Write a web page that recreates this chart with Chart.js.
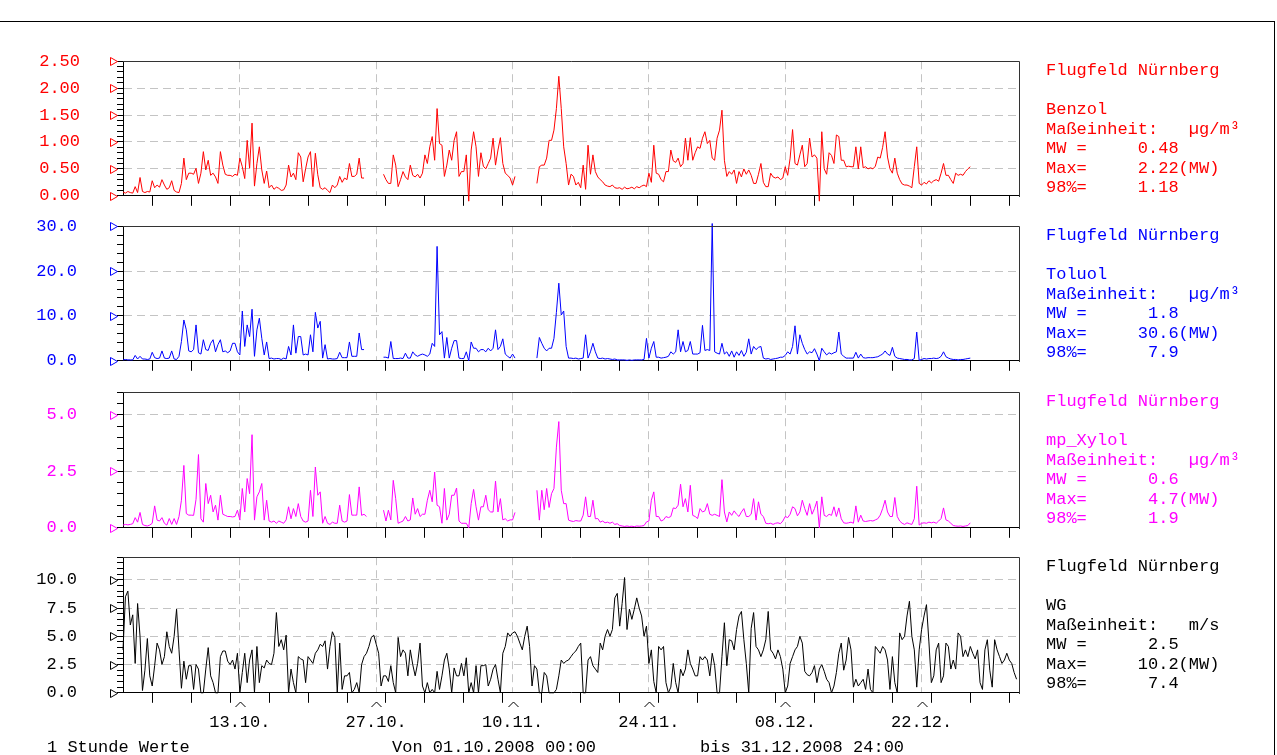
<!DOCTYPE html>
<html><head><meta charset="utf-8">
<script src="https://cdn.jsdelivr.net/npm/chart.js@4.4.1/dist/chart.umd.min.js"></script>
<style>
html,body{margin:0;padding:0;background:#fff;}
body{width:1277px;height:755px;overflow:hidden;position:relative;}
canvas{position:absolute;left:0;}
.info{position:absolute;left:1046px;margin:0;font:17px/19.5px 'Liberation Mono',monospace;white-space:pre;z-index:2;}
.foot{position:absolute;top:738px;margin:0;font:17px/20px 'Liberation Mono',monospace;white-space:pre;color:#000;z-index:2;}
#frame{position:absolute;left:-2px;top:21px;width:1276px;height:800px;border-top:1px solid #000;border-right:1px solid #000;}
</style>
</head><body>
<div id="frame"></div>
<script>
const _ = null;
const STEP_DAYS = 0.25; // 6-hour samples starting 01.10.2008 00:00
const dateTicks = [12, 26, 40, 54, 68, 82];
const dateLabels = ['13.10.', '27.10.', '10.11.', '24.11.', '08.12.', '22.12.'];
const dayTicks = [3,7,11,15,19,23,27,31,35,39,43,47,51,55,59,63,67,71,75,79,83,87,91];

const benzolTicks = [0, 0.5, 1, 1.5, 2, 2.5];
const toluolTicks = [0, 10, 20, 30];
const xylolTicks = [0, 2.5, 5];
const wgTicks = [0, 2.5, 5, 7.5, 10];

const stationName = 'Flugfeld Nürnberg';
const seriesNames = ['Benzol', 'Toluol', 'mp_Xylol', 'WG'];
const units = ['µg/m³', 'µg/m³', 'µg/m³', 'm/s'];
const meanValues = ['0.48', '1.8', '0.6', '2.5'];
const maxValues = ['2.22', '30.6', '4.7', '10.2'];
const p98Values = ['1.18', '7.9', '1.9', '7.4'];

const benzol = [
.07,.05,.08,.06, .05,.17,.06,.34, .08,.06,.08,.07, .28,.15,.20,.16, .30,.20,.12,.15,
.28,.10,.07,.06, .23,.70,.30,.42, .42,.40,.51,.23, .42,.82,.48,.66, .38,.42,.35,.23,
.82,.57,.40,.38, .38,.36,.40,.38, .70,.54,.32,1.03, .51,1.35,.18,.60, .91,.48,.23,.46,
.15,.20,.12,.16, .14,.10,.11,.20, .57,.35,.42,.30, .80,.72,.26,.50, .72,.82,.17,.79,
.39,.15,.12,.15, .10,.06,.20,.15, .20,.36,.25,.33, .30,.60,.36,.36, .40,.70,.33,.33,
_,_,_,_, _,_,_,.40, .30,.23,.23,.76, .57,.17,.30,.45, .35,.30,.57,.38,
.35,.40,.33,.42, .76,.60,.91,1.10, .66,1.62,.97,.94, .36,.57,.85,.66, 1.03,1.19,.36,.45,
.45,.76,-.10,.85, 1.19,.91,.36,.80, .55,.50,.60,.70, 1.07,.57,.85,1.08, .60,.42,.38,.33,
.20,.36,_,_, _,_,_,_, _,_,.23,.54, .57,.57,.70,1.03, 1.03,1.22,1.62,2.22,
1.62,.91,.60,.20, .40,.36,.20,.25, .15,.57,.12,.94, .40,.76,.45,.35, .30,.26,.20,.18,
.17,.20,.15,.14, .15,.12,.16,.13, .14,.16,.13,.17, .15,.18,.20,.17, .42,.25,.94,.42,
.40,.30,.26,.45, .45,.85,.65,.62, .70,.54,.60,1.07, .66,1.08,.66,.80, .91,.88,1.07,1.19,
.97,1.03,.70,.66, 1.07,1.22,1.59,.66, .36,.45,.40,.48, .23,.45,.35,.50, .40,.48,.38,.23,
.23,.40,.60,.25, .17,.17,.42,.35, .33,.35,.30,.33, .54,.38,.70,1.23, .60,.57,.76,.94,
.54,.60,1.07,.72, .76,.70,-.10,1.19, .50,.40,.80,.75, .60,1.13,1.10,.66, .66,.54,.55,.54,
.54,.91,.50,.91, .52,.54,.50,.52, .50,.55,.72,.70, .90,1.19,.72,.50, .42,.70,.42,.30,
.22,.20,.20,.18, .15,.54,.91,.23, .20,.25,.22,.28, .24,.28,.30,.27, .42,.60,.38,.38,
.30,.23,.42,.38, .40,.38,.45,.50, .54,_,_,_, _,_,_,_, _,_,_,_,
_,_,_,_, _,_,_,_
];

const toluol = [
.2,.3,.2,.2, .2,1.2,.4,1.0, .4,.4,.3,.4, 1.9,.7,.5,.6, 2.2,.6,.5,.6,
2.2,.4,.3,1.0, 4.3,9.1,6.9,2.2, 2.0,2.5,8.0,1.8, 1.5,4.7,2.5,2.3, 3.9,4.7,2.0,3.6,
4.7,2.0,2.2,1.8, 2.2,3.9,3.9,2.0, 1.3,11.1,3.2,8.0, 5.4,11.5,1.0,6.9, 9.5,5.0,1.3,4.2,
.5,.6,.4,.5, .5,.3,.6,.4, 3.2,1.3,8.0,1.7, 5.4,5.4,1.3,1.5, 1.3,5.8,2.0,10.8,
7.3,8.8,.6,3.6, .4,.5,.4,.4, .5,1.9,.7,.7, .7,4.2,1.0,1.0, 1.0,6.2,2.5,2.5,
_,_,_,_, _,_,_,.8, .8,.6,4.3,.5, .5,.5,.6,.5, 1.7,.6,.6,2.0,
1.3,1.0,1.3,1.5, 1.3,1.0,1.5,3.9, 3.2,25.5,5.8,6.5, .6,5.2,.6,2.8, 4.5,4.5,.6,.5,
.5,2.0,0,4.2, 2.8,2.8,2.0,2.5, 2.5,2.0,2.8,2.2, 2.8,6.9,2.5,3.2, 4.9,1.5,1.0,.6,
1.5,.6,_,_, _,_,_,_, _,_,.6,5.2, 3.9,2.8,2.2,2.8, 2.8,5.0,10.8,17.3,
10.2,11.1,3.2,.6, .6,.5,.6,.4, .5,.6,5.8,.6, 2.0,3.9,2.0,.6, .5,.6,.4,.5,
.4,.3,.4,.2, .2,.2,.2,.1, .2,.1,.2,.2, .2,.2,.3,5.0, .6,2.8,4.3,.8,
.8,.6,.7,.8, 1.0,2.0,1.5,2.0, 6.9,2.0,4.3,2.0, 2.3,4.3,1.5,1.5, 1.5,1.8,7.9,2.3,
2.5,2.3,30.6,2.0, 1.7,1.5,3.9,1.5, 2.0,1.0,2.2,.8, 2.0,1.2,2.3,1.0, 1.9,4.9,1.5,3.2,
2.5,3.0,3.2,.6, .4,.5,.3,.4, .5,.6,.8,.8, 1.2,2.0,1.5,3.2, 7.8,1.5,5.8,3.9,
2.5,1.5,2.0,1.8, 2.7,1.5,0,2.8, 2.0,1.3,1.8,1.5, 1.8,2.0,6.4,1.5, 1.0,.6,.6,.6,
.6,1.9,.6,1.5, .7,.6,.7,.7, .7,.8,.9,1.2, 1.5,2.2,1.5,1.2, 3.0,1.0,.6,.5,
.4,.3,.3,.2, .2,.5,6.4,.1, .3,.5,.4,.5, .5,.6,.5,.6, 1.0,2.0,.9,.6,
.4,.3,.3,.2, .3,.3,.4,.5, .6,_,_,_, _,_,_,_, _,_,_,_,
_,_,_,_, _,_,_,_
];

const xylol = [
.12,.15,.13,.15, .18,.45,.25,.68, .15,.10,.08,.12, .20,.97,.34,.30, .45,.20,.12,.41,
.15,.41,.15,.50, 1.22,2.76,.63,.56, .56,.55,1.26,3.24, .40,.25,1.96,1.07, 1.44,.70,1.00,.34,
1.44,.60,.55,.50, .50,.48,.50,.78, .34,1.74,.70,2.18, 1.51,4.12,.34,1.37, 1.59,1.96,.34,1.22,
.30,.25,.30,.20, .30,.25,.20,.35, .93,.40,.85,.50, 1.07,.50,.30,.25, .30,1.66,.50,2.69,
1.44,1.59,.20,.50, .20,.15,.25,.20, .20,1.00,.30,.25, .30,1.47,.56,.56, .56,1.81,.55,.60,
.50,_,_,_, _,_,_,.78, .30,.78,.35,2.10, 1.29,.20,.25,.30, .50,.30,.35,1.32,
.60,.85,.50,.60, .60,1.22,1.66,1.15, 2.47,1.00,.93,.20, 1.74,.34,.60,1.44, 1.44,1.76,.30,.20,
.20,.20,0,1.07, 1.70,.93,.34,.93, .93,1.44,.80,.70, .70,2.07,.70,1.29, .35,.40,.30,.35,
.35,.68,_,_, _,_,_,_, _,_,1.66,.34, 1.66,.80,1.74,.90, 1.51,1.74,3.57,4.70,
1.66,1.07,1.07,.34, .30,.28,.32,.30, .30,.56,1.37,.50, .50,1.22,.40,.41, .25,.30,.22,.25,
.20,.25,.15,.18, .10,.08,.06,.08, .06,.07,.05,.08, .07,.08,.10,.26, .30,1.22,1.59,.50,
.50,.30,.35,.50, .45,.50,.88,.85, 1.00,1.93,.93,1.29, .70,1.88,.55,.50, .41,.85,.70,.75,
1.07,.60,.55,.60, .55,.50,2.13,.70, .26,.70,.55,.75, .60,.50,.70,.85, .50,.50,.60,1.29,
.34,1.15,.60,.50, .20,.18,.20,.15, .20,.22,.18,.30, .50,.45,.60,.93, .85,.53,.70,1.22,
.85,.55,1.07,.60, .85,1.18,0,1.37, .55,.50,.60,.55, .93,.50,.88,.40, .22,.20,.22,.25,
.20,.97,.25,.56, .30,.28,.30,.32, .30,.35,.40,.56, .85,1.22,.70,.50, .50,1.34,.50,.30,
.20,.15,.22,.18, .15,.40,1.84,.12, .20,.22,.20,.25, .22,.25,.20,.30, .41,.88,.35,.30,
.20,.10,.08,.07, .08,.06,.08,.10, .22,_,_,_, _,_,_,_, _,_,_,_,
_,_,_,_, _,_,_,_
];

const wg = [
3.8,8.5,9.0,6.0, 6.9,2.6,7.9,5.0, 0.2,2.0,4.8,1.5, 0.6,2.4,4.4,3.8, 2.5,3.2,5.4,4.1,
3.5,5.0,7.4,3.8, 0.4,2.8,1.2,2.4, 2.4,0.3,2.5,2.1, 0,0,2.1,4.0, 1.5,0.9,0,0,
3.2,3.7,3.7,2.8, 2.5,2.9,2.1,3.5, 0,1.8,3.5,0.9, 2.9,3.8,0,4.1, 0.9,2.4,2.2,2.9,
2.6,2.5,3.5,7.1, 4.1,4.7,3.8,5.1, 0,2.1,0.9,0, 3.2,3.0,2.9,0.9, 3.2,2.9,2.6,3.5,
3.8,4.3,4.1,4.6, 2.1,4.1,5.4,4.9, 0,4.4,0.3,1.5, 1.5,1.8,0,0.3, 0.9,0,2.5,3.2,
3.5,4.1,4.9,5.1, 4.3,3.5,0.6,1.5, 1.5,1.0,2.4,0.9, 0,4.9,3.2,3.8, 3.5,1.5,3.8,2.5,
1.5,2.6,4.4,0.6, 0,0.9,0,0.3, 0,1.9,0.3,1.5, 2.9,3.5,2.1,0, 2.2,1.5,1.5,2.6,
1.5,3.1,0,0.9, 0,2.4,0,2.4, 2.4,2.5,0.6,1.2, 2.1,2.5,1.2,0, 3.5,4.1,5.3,5.0,
5.3,5.4,5.0,4.4, 3.8,5.0,5.9,4.1, 0.6,2.4,2.1,0, 0,1.8,1.5,0, 0,0,0.3,1.5,
2.9,2.6,2.8,2.9, 3.2,3.5,3.7,4.1, 4.4,0,0,2.9, 3.2,2.4,2.1,1.8, 4.4,3.8,5.0,5.6,
5.0,5.6,8.4,8.8, 5.9,7.9,10.2,5.6, 7.4,6.5,7.4,8.4, 7.5,6.8,5.0,5.9, 2.6,3.8,1.0,0,
4.1,3.8,4.1,0.9, 0,0.5,2.6,0.9, 0,2.1,1.5,2.1, 3.8,2.6,2.1,1.5, 1.5,3.2,2.9,3.2,
2.9,1.5,3.5,2.4, 0,0,3.2,6.2, 2.4,4.7,4.6,3.8, 5.6,6.8,7.2,4.7, 2.6,0,5.7,7.1,
4.1,3.8,3.2,3.8, 4.7,7.2,3.8,3.5, 3.0,3.8,3.2,2.1, 0,0.6,2.6,3.2, 3.8,4.1,5.0,4.4,
1.9,1.6,1.5,1.8, 2.4,0.9,2.1,2.5, 1.9,1.2,0.9,0, 0.6,1.8,3.5,4.4, 2.0,2.9,4.9,3.8,
0.5,1.2,0.6,0.9, 1.2,0.3,2.1,0.3, 0,4.1,3.8,3.5, 4.1,3.8,2.9,0.3, 3.2,0.9,0,5.3,
4.7,5.0,6.8,8.1, 5.0,3.8,0.5,3.8, 5.6,6.8,7.8,4.5, 0.9,1.5,3.8,4.4, 0.9,1.5,4.4,4.1,
2.1,2.9,2.1,5.3, 5.0,3.2,3.8,3.2, 4.1,3.5,3.0,3.8, 0.9,0.3,3.8,4.7, 2.0,0.5,4.7,3.8,
3.2,2.6,2.9,3.5, 2.9,2.6,1.8,1.2
];

const panels = [
  {data: benzol, color: '#ff0000', max: 2.5, majors: benzolTicks, minor: 0.1, dec: 2, top: 61, bottom: 196, pad: 37},
  {data: toluol, color: '#0000ff', max: 30, majors: toluolTicks, minor: 2, dec: 1, top: 226, bottom: 361, pad: 40},
  {data: xylol, color: '#ff00ff', max: 6, majors: xylolTicks, minor: 0.5, dec: 1, top: 392, bottom: 528, pad: 40},
  {data: wg, color: '#000000', max: 12, majors: wgTicks, minor: 0.5, dec: 1, top: 557, bottom: 693, pad: 40}
];

const xTickValues = dayTicks.concat(dateTicks).sort((a, b) => a - b);
const FONT = {family: "'Liberation Mono', monospace", size: 17};

function makePanel(p, idx) {
  const isLast = idx === panels.length - 1;
  const padTop = 12;
  const xh = isLast ? 50 : 14;
  const H = p.bottom - p.top;
  const c = document.createElement('canvas');
  c.width = 1277; c.height = padTop + H + xh;
  c.style.top = (p.top - padTop) + 'px';
  document.body.appendChild(c);

  const yVals = [];
  const nMinor = Math.round(p.max / p.minor);
  for (let k = 0; k <= nMinor; k++) yVals.push(+(k * p.minor).toFixed(6));
  const isMajor = v => p.majors.some(m => Math.abs(m - v) < 1e-6);

  const makeDecor = () => ({
    id: 'decor' + idx,
    afterDraw(chart) {
      const {ctx, chartArea: a} = chart;
      const ys = chart.scales.y, xs = chart.scales.x;
      ctx.save();
      ctx.lineWidth = 1;
      ctx.strokeStyle = '#333';
      ctx.beginPath();
      ctx.moveTo(Math.round(a.left), Math.round(a.top) + 0.5);
      ctx.lineTo(Math.round(a.right) + 0.5, Math.round(a.top) + 0.5);
      ctx.lineTo(Math.round(a.right) + 0.5, Math.round(a.bottom) + 1);
      ctx.stroke();
      ctx.strokeStyle = p.color;
      p.majors.forEach(v => {
        const y = Math.round(ys.getPixelForValue(v)) + 0.5;
        ctx.beginPath();
        ctx.moveTo(110.5, y - 4);
        ctx.lineTo(117.5, y);
        ctx.lineTo(110.5, y + 4);
        ctx.closePath();
        ctx.stroke();
      });
      if (isLast) {
        ctx.strokeStyle = '#000';
        dateTicks.forEach(v => {
          const x = Math.round(xs.getPixelForValue(v)) + 0.5;
          const b = Math.round(a.bottom);
          ctx.beginPath();
          ctx.moveTo(x - 5, b + 14);
          ctx.lineTo(x, b + 9);
          ctx.lineTo(x + 5, b + 14);
          ctx.stroke();
        });
      }
      ctx.restore();
    }
  });

  const makeConfig = () => ({
    type: 'line',
    data: {datasets: [{data: p.data.map((v, i) => ({x: i * STEP_DAYS, y: v})),
      borderColor: p.color, borderWidth: 1, pointRadius: 0, pointHoverRadius: 0, pointHitRadius: 0,
      tension: 0, spanGaps: false, clip: false, fill: false}]},
    options: {
      animation: false, responsive: false, maintainAspectRatio: false, events: [],
      layout: {padding: {left: 0, right: 258, top: padTop, bottom: 0}, autoPadding: false},
      plugins: {legend: {display: false}, tooltip: {enabled: false}, title: {display: false}},
      scales: {
        x: {
          type: 'linear', min: 0, max: 92,
          afterBuildTicks: s => { s.ticks = xTickValues.map(v => ({value: v})); },
          afterFit: s => { s.height = xh; },
          grid: {
            color: ctx => (ctx.tick && dateTicks.includes(ctx.tick.value)) ? '#c4c4c4' : 'rgba(0,0,0,0)',
            tickColor: ctx => (ctx.tick && dateTicks.includes(ctx.tick.value)) ? 'rgba(0,0,0,0)' : '#000',
            tickLength: 10, lineWidth: 1, tickWidth: 1
          },
          border: {display: true, color: '#000', width: 1, dash: [8, 5]},
          ticks: {
            display: isLast, autoSkip: false, maxRotation: 0, minRotation: 0, padding: 9,
            color: '#000', font: FONT,
            callback: v => { const i = dateTicks.indexOf(v); return i >= 0 ? dateLabels[i] : ''; }
          }
        },
        y: {
          min: 0, max: p.max,
          afterBuildTicks: s => { s.ticks = yVals.map(v => ({value: v})); },
          afterFit: s => { s.width = 123; },
          grid: {
            color: ctx => (ctx.tick && isMajor(ctx.tick.value) && ctx.tick.value > 1e-9 && ctx.tick.value < p.max - 1e-9) ? '#c4c4c4' : 'rgba(0,0,0,0)',
            tickColor: '#000', tickLength: 6, lineWidth: 1, tickWidth: 1
          },
          border: {display: true, color: '#000', width: 1, dash: [8, 5]},
          ticks: {
            autoSkip: false, padding: p.pad, color: p.color, font: FONT,
            callback: v => isMajor(v) ? (+v).toFixed(p.dec) : ''
          }
        }
      }
    },
    plugins: [makeDecor()]
  });

  // build, measure the resulting plot area, then resize the canvas so the plot area lands exactly
  let chart = new Chart(c, makeConfig());
  for (let iter = 0; iter < 3; iter++) {
    const a = chart.chartArea;
    const insetTop = Math.round(a.top);
    const insetBottom = Math.round(c.height - a.bottom);
    const wantH = insetTop + H + insetBottom;
    if (Math.abs(a.top - insetTop) < 0.01 && Math.abs((a.bottom - a.top) - H) < 0.01) {
      c.style.top = (p.top - insetTop) + 'px';
      break;
    }
    chart.destroy();
    c.width = 1277;
    c.height = wantH;
    c.style.top = (p.top - insetTop) + 'px';
    chart = new Chart(c, makeConfig());
  }

  const info = document.createElement('pre');
  info.className = 'info';
  info.style.top = (p.top) + 'px';
  info.style.color = p.color;
  info.textContent = [
    stationName, '',
    seriesNames[idx],
    'Maßeinheit:   ' + units[idx],
    'MW =' + meanValues[idx].padStart(9),
    'Max=' + maxValues[idx].padStart(9) + '(MW)',
    '98%=' + p98Values[idx].padStart(9)
  ].join('\n');
  document.body.appendChild(info);
}

panels.forEach(makePanel);

[['1 Stunde Werte', 47], ['Von 01.10.2008 00:00', 392], ['bis 31.12.2008 24:00', 700]].forEach(([t, x]) => {
  const d = document.createElement('div');
  d.className = 'foot';
  d.style.left = x + 'px';
  d.textContent = t;
  document.body.appendChild(d);
});
</script>
</body></html>
